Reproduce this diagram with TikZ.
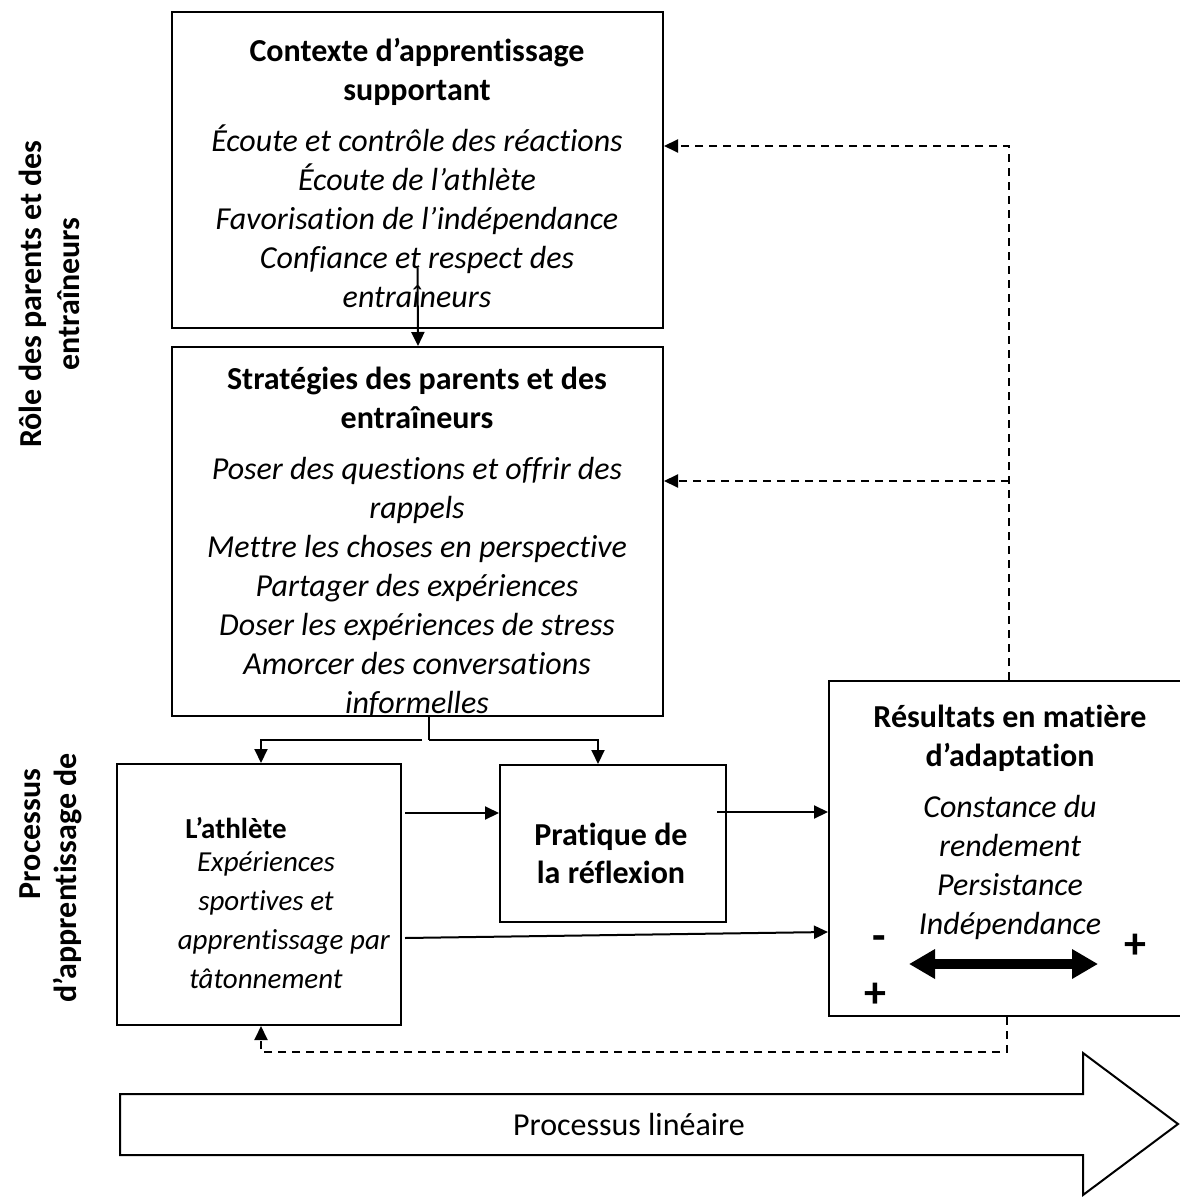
\documentclass[tikz,border=0pt]{standalone}
\usepackage{fontspec}
\setmainfont{Carlito}[Ligatures={NoCommon}]
\usetikzlibrary{arrows.meta, positioning}

\tikzset{
  box/.style={draw, line width=1pt, inner sep=0pt},
  txt/.style={align=center, inner sep=0pt, font=\fontsize{16}{19.5}\selectfont},
  small/.style={txt, font=\fontsize{14.5}{19.5}\selectfont},
  bold/.style={txt, font=\fontsize{16}{19}\selectfont\bfseries},
  sign/.style={txt, font=\fontsize{22}{22}\selectfont\bfseries},
  side/.style={bold, rotate=90},
  link/.style={line width=1pt, -{Triangle[length=7pt, width=6.5pt]}},
  back/.style={link, dashed, dash pattern=on 4pt off 3pt}
}

\begin{document}
\begin{tikzpicture}[x=0.5pt, y=-0.5pt]
			\useasboundingbox (0,0) rectangle (1179,1197);
			
			% role des parents et des entraineurs
			\node[box, minimum width=245.5pt, minimum height=158pt] (ctx) at (417.5,170) {};
			\node[txt] (ctxtxt) at (417,172.5) {\textbf{Contexte d’apprentissage}\\\textbf{supportant}\\[6pt]
				\textit{Écoute et contrôle des réactions}\\\textit{Écoute de l’athlète}\\
				\textit{Favorisation de l’indépendance}\\\textit{Confiance et respect des}\\\textit{entraîneurs}};
			
			\node[box, minimum width=245.5pt, minimum height=184.5pt] (strat) at (417.5,531.5) {};
			\node[txt] (strattxt) at (417,542) {\textbf{Stratégies des parents et des}\\\textbf{entraîneurs}\\[6pt]
				\textit{Poser des questions et offrir des}\\\textit{rappels}\\
				\textit{Mettre les choses en perspective}\\\textit{Partager des expériences}\\
				\textit{Doser les expériences de stress}\\\textit{Amorcer des conversations}\\\textit{informelles}};
			
			% processus d'apprentissage de l'athlete
			\node[box, minimum width=142pt, minimum height=130.5pt] (ath) at (259,894.5) {};
			\node[small, font=\fontsize{14.5}{19.5}\selectfont\bfseries] (athtitle) at (236,828) {L’athlète};
			\node[small] (athtxt) at (266,920) {\textit{Expériences}\\\textit{sportives et}\\
				\hspace*{18pt}\textit{apprentissage par}\\\textit{tâtonnement}};
			
			\node[box, minimum width=113pt, minimum height=78.5pt] (prat) at (613,843.5) {};
			\node[bold] (prattxt) at (611,853.5) {Pratique de\\la réflexion};
			
			\node[box, minimum width=176.5pt, minimum height=167.5pt] (res) at (1005.5,848.5) {};
			\node[txt] (restxt) at (1010,822) {\textbf{Résultats en matière}\\\textbf{d’adaptation}\\[6pt]
				\textit{Constance du}\\\textit{rendement}\\\textit{Persistance}\\\textit{Indépendance}};
			\node[sign] (minus) at (879,943) {-};
			\node[sign] (plusr) at (1135,946) {+};
			\node[sign] (plusl) at (875,995) {+};
			\coordinate (lo) at (909,964);
			\coordinate (hi) at (1098,964);
			\draw[line width=5pt, {Triangle[length=13pt, width=14pt]}-{Triangle[length=13pt, width=14pt]}] (lo) -- (hi);
			
			% side labels
			\node[side] (role) at (49,294) {Rôle des parents et des\\entraîneurs};
			\node[side] (proc) at (30,834) {Processus};
			\node[side] (procb) at (68,878) {d’apprentissage de};
			
			% arrows
			\draw[link] (ctx.south |- 418,268) -- (strat.north -| 418,0);
			\coordinate (split) at (429,740);
			\draw[line width=1pt] (strat.south -| 429,0) -- (split);
			\draw[link] (split) -- (598,740) -- (prat.north -| 598,0);
			\draw[link] (422,740) -- (261,740) -- (ath.north -| 261,0);
			\draw[link] (405,813) -- (prat.west |- 0,813);
			\draw[link] (717,812) -- (res.west |- 0,812);
			\draw[link] (405,938) -- (res.west |- 0,932);
			
			% feedback
			\coordinate (fbtop) at (1009,146);
			\coordinate (fbmid) at (1009,481);
			\draw[back] (res.north -| 1009,0) -- (fbtop) -- (ctx.east |- fbtop);
			\draw[back] (fbmid) -- (strat.east |- fbmid);
			\coordinate (fbbot) at (1007,1052);
			\draw[back] (res.south -| 1007,0) -- (fbbot) -- (261,1052) -- (ath.south -| 261,0);
			
			% processus lineaire
			\draw[line width=1pt] (120,1094) -- (1083,1094) -- (1083,1053) -- (1178,1124) -- (1083,1195) -- (1083,1155) -- (120,1155) -- cycle;
			\node[txt] (lin) at (629,1124) {Processus linéaire};
		\end{tikzpicture}
\end{document}
